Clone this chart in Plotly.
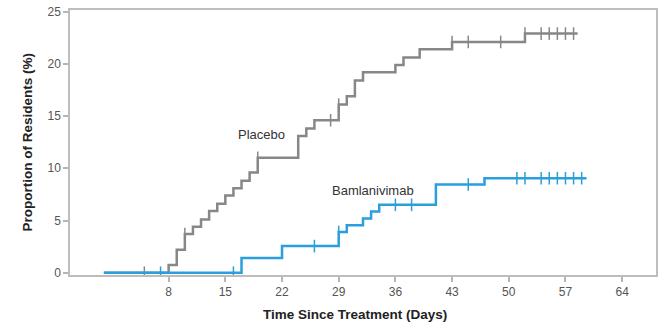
import numpy as np
import plotly.graph_objects as go

# Placebo cumulative incidence (step function)
placebo_days = [0, 8, 9, 10, 11, 12, 13, 14, 15, 16, 17, 18, 19, 24, 25, 26, 29, 30, 31, 32, 36, 37, 39, 43, 52, 58.5]
placebo_vals = [0, 0.74, 2.2, 3.7, 4.4, 5.1, 5.9, 6.6, 7.4, 8.1, 8.8, 9.6, 11.0, 13.1, 13.8, 14.6, 16.1, 16.9, 18.4, 19.2, 19.9, 20.6, 21.4, 22.1, 22.9, 22.9]
placebo_censor = [5, 10, 19, 28, 29, 43, 45, 49, 52, 54, 55, 56, 57, 58]

# Bamlanivimab cumulative incidence (step function)
bam_days = [0, 17, 22, 29, 30, 32, 33, 34, 41, 47, 59.6]
bam_vals = [0, 1.4, 2.55, 3.9, 4.55, 5.2, 5.85, 6.5, 8.45, 9.05, 9.05]
bam_censor = [7, 16, 26, 29, 36, 38, 45, 51, 52, 54, 55, 56, 57, 58, 59]

x_ticks = [8, 15, 22, 29, 36, 43, 50, 57, 64]
y_ticks = [0, 5, 10, 15, 20, 25]

series_names = ["Placebo", "Bamlanivimab"]
label_pos = [(19.45, 13.28), (33.2, 7.92)]

GRAY = "#878787"
BLUE = "#2a9fdc"


def step_at(days, vals, t):
    idx = np.searchsorted(np.array(days), t, side="right") - 1
    return [vals[i] for i in idx]


fig = go.Figure()
for days, vals, cens, col in [
    (placebo_days, placebo_vals, placebo_censor, GRAY),
    (bam_days, bam_vals, bam_censor, BLUE),
]:
    fig.add_trace(go.Scatter(x=days, y=vals, mode="lines", line=dict(color=col, width=2.5, shape="hv"),
                             showlegend=False, hoverinfo="skip"))
    fig.add_trace(go.Scatter(x=cens, y=step_at(days, vals, cens), mode="markers",
                             marker=dict(symbol="line-ns-open", size=9, color=col, line=dict(color=col, width=1.5)),
                             showlegend=False, hoverinfo="skip"))

annotations = []
for name, (lx, ly) in zip(series_names, label_pos):
    annotations.append(dict(x=lx, y=ly, xref="x", yref="y", text=name, showarrow=False,
                            font=dict(size=13, color="#333")))
annotations.append(dict(x=0, y=0.5, xref="paper", yref="paper", xshift=-43,
                        text="<b>Proportion of Residents (%)</b>", textangle=-90, showarrow=False,
                        xanchor="center", yanchor="middle", font=dict(size=13.5, color="#222")))
annotations.append(dict(x=0.486, y=0, xref="paper", yref="paper", yshift=-39,
                        text="<b>Time Since Treatment (Days)</b>", showarrow=False,
                        xanchor="center", yanchor="middle", font=dict(size=13.5, color="#222")))

fig.update_layout(
    width=660, height=323,
    margin=dict(l=70, r=2, t=10, b=48),
    paper_bgcolor="white", plot_bgcolor="white",
    font=dict(family="Liberation Sans, Arial, sans-serif", color="#555", size=12),
    annotations=annotations,
)
fig.update_xaxes(range=[-4.18, 68.18], tickvals=x_ticks, ticks="outside", ticklen=5, tickwidth=1.5,
                 tickcolor="#b5b5b5", showline=True, linecolor="#bdbdbd", linewidth=1.5, mirror=True,
                 showgrid=False, zeroline=False, tickfont=dict(color="#555", size=12))
fig.update_yaxes(range=[-0.22, 25.16], tickvals=y_ticks, ticks="outside", ticklen=5, tickwidth=1.5,
                 tickcolor="#b5b5b5", showline=True, linecolor="#bdbdbd", linewidth=1.5, mirror=True,
                 showgrid=False, zeroline=False, tickfont=dict(color="#555", size=12))

fig.write_html("out.html")
